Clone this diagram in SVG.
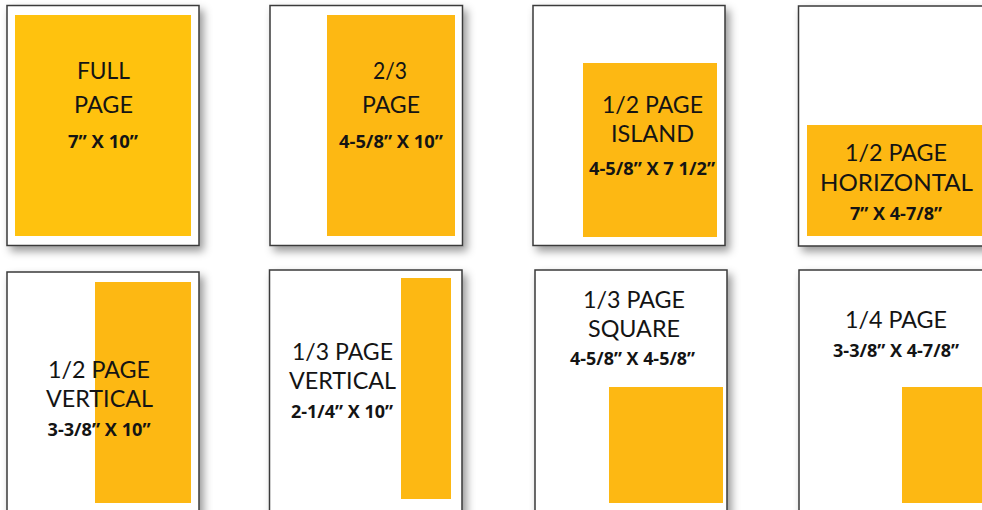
<svg xmlns="http://www.w3.org/2000/svg" width="982" height="510" viewBox="0 0 982 510">
<defs>
<filter id="sh" x="-10%" y="-10%" width="130%" height="130%">
<feDropShadow dx="4" dy="5" stdDeviation="4" flood-color="#000" flood-opacity="0.4"/>
</filter>
<style>
.pg{fill:#fff;stroke:#3a3a3a;stroke-width:1.5;filter:url(#sh)}
.ad{fill:#FDB813}
.ad1{fill:#FFC20E}
.t{font-family:Lato,"Open Sans",sans-serif;font-size:23px;fill:#141414;text-anchor:middle}
.d{font-family:"Open Sans","Liberation Sans",sans-serif;font-weight:bold;font-size:17.5px;fill:#141414;text-anchor:middle}
</style>
</defs>
<rect width="982" height="510" fill="#fff"/>
<g id="full-page">
<rect class="pg" x="7" y="5.5" width="192" height="240"/>
<rect class="ad1" x="15" y="15" width="176" height="221"/>
<text class="t" x="103.5" y="79" textLength="53" lengthAdjust="spacingAndGlyphs">FULL</text>
<text class="t" x="103.5" y="113" textLength="59" lengthAdjust="spacingAndGlyphs">PAGE</text>
<text class="d" x="103" y="148" textLength="70" lengthAdjust="spacingAndGlyphs">7” X 10”</text>
</g>
<g id="two-thirds-page">
<rect class="pg" x="270" y="5.5" width="192.5" height="240"/>
<rect class="ad" x="327" y="15" width="128" height="221"/>
<text class="t" x="390" y="79" textLength="34" lengthAdjust="spacingAndGlyphs">2/3</text>
<text class="t" x="391" y="113" textLength="58" lengthAdjust="spacingAndGlyphs">PAGE</text>
<text class="d" x="391" y="148" textLength="104" lengthAdjust="spacingAndGlyphs">4-5/8” X 10”</text>
</g>
<g id="half-page-island">
<rect class="pg" x="533" y="5.5" width="192" height="240"/>
<rect class="ad" x="583" y="63" width="134" height="174"/>
<text class="t" x="652.5" y="113" textLength="101" lengthAdjust="spacingAndGlyphs">1/2 PAGE</text>
<text class="t" x="652.5" y="142" textLength="83" lengthAdjust="spacingAndGlyphs">ISLAND</text>
<text class="d" x="652" y="175" textLength="126" lengthAdjust="spacingAndGlyphs">4-5/8” X 7 1/2”</text>
</g>
<g id="half-page-horizontal">
<rect class="pg" x="798.5" y="6" width="200" height="240"/>
<rect class="ad" x="807" y="125" width="190" height="111"/>
<text class="t" x="896" y="161" textLength="102" lengthAdjust="spacingAndGlyphs">1/2 PAGE</text>
<text class="t" x="896.5" y="191" textLength="153" lengthAdjust="spacingAndGlyphs">HORIZONTAL</text>
<text class="d" x="896" y="220" textLength="92" lengthAdjust="spacingAndGlyphs">7” X 4-7/8”</text>
</g>
<g id="half-page-vertical">
<rect class="pg" x="7" y="272" width="192" height="250"/>
<rect class="ad" x="95" y="282" width="96" height="221"/>
<text class="t" x="99" y="378" textLength="102" lengthAdjust="spacingAndGlyphs">1/2 PAGE</text>
<text class="t" x="99.5" y="407" textLength="107" lengthAdjust="spacingAndGlyphs">VERTICAL</text>
<text class="d" x="99" y="436" textLength="103" lengthAdjust="spacingAndGlyphs">3-3/8” X 10”</text>
</g>
<g id="third-page-vertical">
<rect class="pg" x="269.5" y="270" width="192.5" height="252"/>
<rect class="ad" x="401" y="278" width="50" height="221"/>
<text class="t" x="342.5" y="360" textLength="101" lengthAdjust="spacingAndGlyphs">1/3 PAGE</text>
<text class="t" x="342.5" y="389" textLength="107" lengthAdjust="spacingAndGlyphs">VERTICAL</text>
<text class="d" x="342" y="418" textLength="102" lengthAdjust="spacingAndGlyphs">2-1/4” X 10”</text>
</g>
<g id="third-page-square">
<rect class="pg" x="535" y="270" width="192" height="252"/>
<rect class="ad" x="609" y="387" width="114" height="116"/>
<text class="t" x="634" y="308" textLength="102" lengthAdjust="spacingAndGlyphs">1/3 PAGE</text>
<text class="t" x="634" y="337" textLength="92" lengthAdjust="spacingAndGlyphs">SQUARE</text>
<text class="d" x="632.5" y="365" textLength="125" lengthAdjust="spacingAndGlyphs">4-5/8” X 4-5/8”</text>
</g>
<g id="quarter-page">
<rect class="pg" x="799" y="270" width="200" height="252"/>
<rect class="ad" x="902" y="387" width="90" height="116"/>
<text class="t" x="896" y="328" textLength="102" lengthAdjust="spacingAndGlyphs">1/4 PAGE</text>
<text class="d" x="896" y="357" textLength="126" lengthAdjust="spacingAndGlyphs">3-3/8” X 4-7/8”</text>
</g>
<g id="connectors"/>
</svg>
